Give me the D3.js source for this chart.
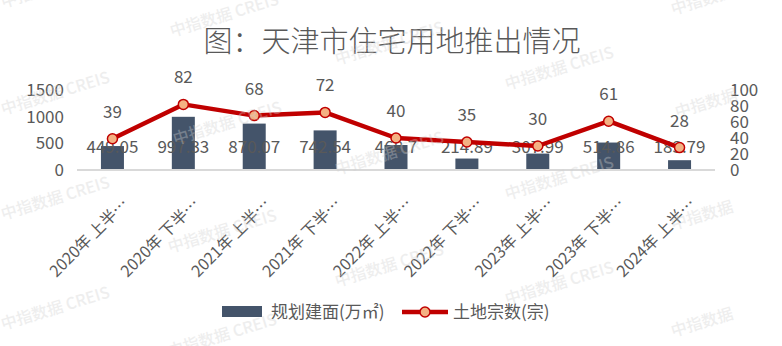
<!DOCTYPE html>
<html><head><meta charset="utf-8">
<script src="https://cdn.jsdelivr.net/npm/d3@7"></script>
<style>
html,body{margin:0;padding:0;background:#fff;}
svg text{font-family:"Noto Sans CJK SC","Noto Sans",sans-serif;}
</style></head>
<body><svg id="c" width="782" height="346"></svg>
<script>
const categories = ["2020年 上半…","2020年 下半…","2021年 上半…","2021年 下半…","2022年 上半…","2022年 下半…","2023年 上半…","2023年 下半…","2024年 上半…"];
const barValues = [449.05, 997.33, 870.07, 742.54, 468.7, 214.89, 307.99, 514.86, 183.79];
const barLabels = ["449.05","997.33","870.07","742.54","468.7","214.89","307.99","514.86","183.79"];
const lineValues = [39, 82, 68, 72, 40, 35, 30, 61, 28];
const leftTicks = [0, 500, 1000, 1500];
const rightTicks = [0, 20, 40, 60, 80, 100];
const title = "图：天津市住宅用地推出情况";
const barName = "规划建面(万㎡)";
const lineName = "土地宗数(宗)";
const watermark = "中指数据 CREIS";

const svg = d3.select("#c");
const m = {left:77, right:715, top:90, bottom:170};
const txt = "#595959";
const ff = '"Noto Sans CJK SC","Noto Sans",sans-serif';

const x = d3.scaleBand().domain(categories).range([m.left, m.right]).paddingInner(0).paddingOuter(0);
const yL = d3.scaleLinear().domain([0,1500]).range([m.bottom, m.top]);
const yR = d3.scaleLinear().domain([0,100]).range([m.bottom, m.top]);

// title
svg.append("text").attr("x", 392).attr("y", 52).attr("text-anchor","middle")
  .attr("font-size", 29).attr("font-weight", 300).attr("fill", txt).text(title);

// left axis
const gL = svg.append("g").attr("transform", `translate(${m.left - 13},0)`)
  .call(d3.axisLeft(yL).tickValues(leftTicks).tickFormat(d3.format("d")).tickSize(0).tickPadding(0));
gL.select(".domain").remove();
gL.selectAll("text").attr("font-size", 17).attr("fill", txt).attr("font-family", ff);

// right axis
const gR = svg.append("g").attr("transform", `translate(${m.right + 15},0)`)
  .call(d3.axisRight(yR).tickValues(rightTicks).tickFormat(d3.format("d")).tickSize(0).tickPadding(0));
gR.select(".domain").remove();
gR.selectAll("text").attr("font-size", 17).attr("fill", txt).attr("font-family", ff);

// bars
const bw = 23;
svg.append("g").selectAll("rect").data(barValues).join("rect")
  .attr("x", (d,i) => x(categories[i]) + x.bandwidth()/2 - bw/2)
  .attr("y", d => yL(d)).attr("width", bw).attr("height", d => yL(0) - yL(d))
  .attr("fill", "#44546A");

// baseline
svg.append("line").attr("x1", m.left).attr("x2", m.right).attr("y1", yL(0)).attr("y2", yL(0))
  .attr("stroke", "#D9D9D9").attr("stroke-width", 2);

// bar labels
svg.append("g").selectAll("text").data(barLabels).join("text")
  .attr("x", (d,i) => x(categories[i]) + x.bandwidth()/2)
  .attr("y", yL(0) - 23).attr("dy", "0.35em").attr("text-anchor","middle")
  .attr("font-size", 17).attr("fill", txt).text(d => d);

// line
const line = d3.line().x((d,i) => x(categories[i]) + x.bandwidth()/2).y(d => yR(d));
svg.append("path").datum(lineValues).attr("d", line).attr("fill","none")
  .attr("stroke", "#C00000").attr("stroke-width", 4.5).attr("stroke-linejoin","round");
svg.append("g").selectAll("circle").data(lineValues).join("circle")
  .attr("cx", (d,i) => x(categories[i]) + x.bandwidth()/2).attr("cy", d => yR(d))
  .attr("r", 5).attr("fill", "#F4B183").attr("stroke", "#C00000").attr("stroke-width", 1.5);
svg.append("g").selectAll("text").data(lineValues).join("text")
  .attr("x", (d,i) => x(categories[i]) + x.bandwidth()/2)
  .attr("y", d => yR(d) - 27).attr("dy", "0.35em").attr("text-anchor","middle")
  .attr("font-size", 17).attr("fill", txt).text(d => d);

// x labels
svg.append("g").selectAll("text").data(categories).join("text")
  .attr("transform", d => `translate(${x(d) + x.bandwidth()/2 + 13},${yL(0) + 31}) rotate(-45)`)
  .attr("text-anchor","end").attr("dy","0.35em")
  .attr("font-size", 16).attr("fill", txt).text(d => d);

// legend
const lg = svg.append("g");
lg.append("rect").attr("x", 222).attr("y", 306).attr("width", 40).attr("height", 11).attr("fill", "#44546A");
lg.append("text").attr("x", 271).attr("y", 312).attr("dy","0.35em").attr("font-size", 17).attr("fill", txt).text(barName);
lg.append("line").attr("x1", 402).attr("x2", 448).attr("y1", 312).attr("y2", 312).attr("stroke", "#C00000").attr("stroke-width", 4.5);
lg.append("circle").attr("cx", 425).attr("cy", 312).attr("r", 5).attr("fill", "#F4B183").attr("stroke", "#C00000").attr("stroke-width", 1.5);
lg.append("text").attr("x", 453).attr("y", 312).attr("dy","0.35em").attr("font-size", 17).attr("fill", txt).text(lineName);

// watermarks
const wmPos = [[3,8],[3,115],[3,220],[3,330],[172,37],[175,145],[170,253],[170,357],[337,65],[337,175],[337,287],[507,90],[507,200],[507,305],[673,15],[677,118],[673,230],[673,337]];
svg.append("g").attr("pointer-events","none").selectAll("text").data(wmPos).join("text")
  .attr("transform", d => `translate(${d[0]},${d[1]}) rotate(-17)`)
  .attr("font-size", 16).attr("font-weight", 500).attr("fill", "#d0d0d0").attr("opacity", 0.35)
  .text(d => d[0] > 650 ? "中指数据" : watermark);
</script></body></html>
